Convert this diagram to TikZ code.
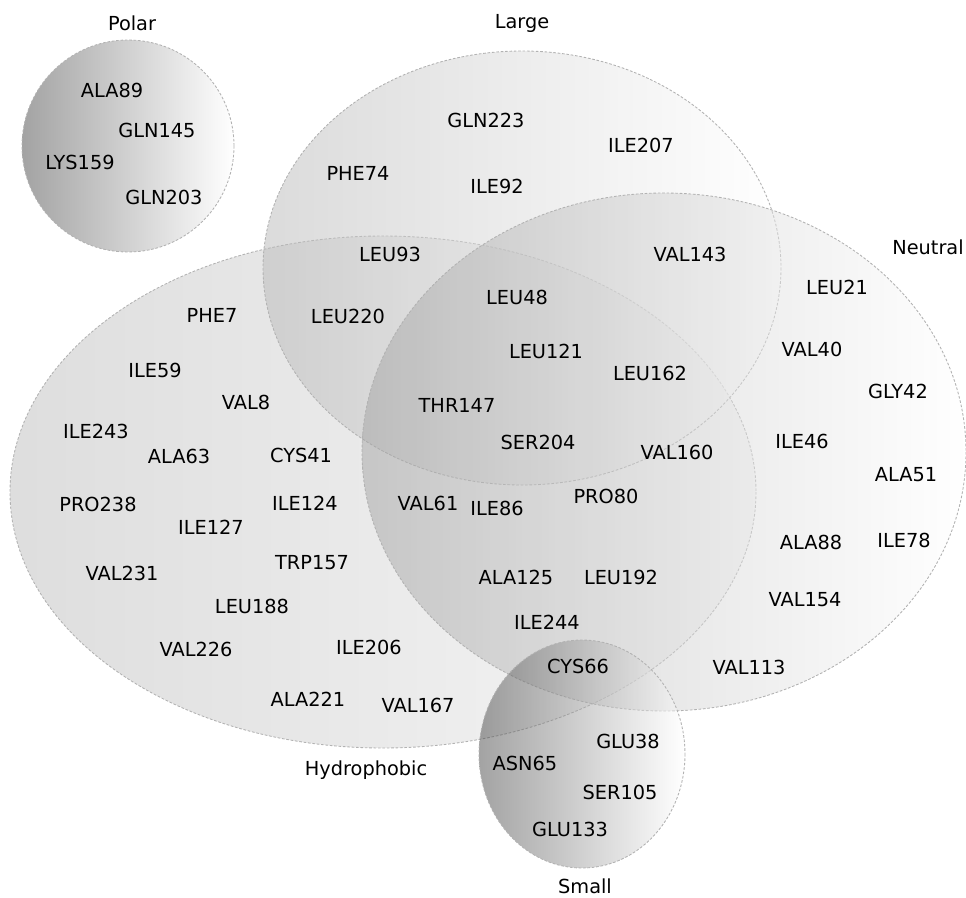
\documentclass[tikz,border=0pt]{standalone}
\usepackage{fontspec}
\setmainfont{DejaVu Sans}
\begin{document}
\begin{tikzpicture}[x=0.02cm,y=-0.02cm,
    venn/.style={fill opacity=0.5,draw=gray!60,line width=0.5pt,dash pattern=on 1.5pt off 1pt},
    res/.style={font=\fontsize{11}{13}\selectfont,inner sep=1pt}]
    \useasboundingbox (0,0) rectangle (966,898);
    \shadedraw[venn,left color=black!26,right color=black!6] (383,492) ellipse [x radius=373,y radius=256];
    \shadedraw[venn,left color=black!28,right color=white] (522,268) ellipse [x radius=259,y radius=217];
    \shadedraw[venn,left color=black!36,right color=white] (664,452) ellipse [x radius=302,y radius=259];
    \shadedraw[venn,left color=black!72,right color=white] (128,146) circle [radius=106];
    \shadedraw[venn,left color=black!72,right color=white] (582,754) ellipse [x radius=103,y radius=114];
    % set names
    \node[res] (polar) at (132,23) {Polar};
    \node[res] (large) at (522,23) {Large};
    \node[res] (neutral) at (928,247) {Neutral};
    \node[res] (hydrophobic) at (366,770) {Hydrophobic};
    \node[res] (small) at (585,886) {Small};
    % polar
    \node[res] (ala89) at (112,90) {ALA89};
    \node[res] (gln145) at (157,130) {GLN145};
    \node[res] (lys159) at (80,162) {LYS159};
    \node[res] (gln203) at (164,197) {GLN203};
    % large
    \node[res] (gln223) at (486,120) {GLN223};
    \node[res] (ile207) at (641,145) {ILE207};
    \node[res] (phe74) at (358,173) {PHE74};
    \node[res] (ile92) at (497,186) {ILE92};
    \node[res] (leu93) at (390,254) {LEU93};
    \node[res] (val143) at (690,254) {VAL143};
    \node[res] (leu48) at (517,297) {LEU48};
    \node[res] (leu220) at (348,316) {LEU220};
    \node[res] (leu121) at (546,351) {LEU121};
    \node[res] (leu162) at (650,373) {LEU162};
    \node[res] (thr147) at (457,405) {THR147};
    \node[res] (ser204) at (538,442) {SER204};
    % neutral
    \node[res] (leu21) at (837,287) {LEU21};
    \node[res] (val40) at (812,349) {VAL40};
    \node[res] (gly42) at (898,391) {GLY42};
    \node[res] (ile46) at (802,441) {ILE46};
    \node[res] (ala51) at (906,475) {ALA51};
    \node[res] (ala88) at (811,542) {ALA88};
    \node[res] (ile78) at (904,540) {ILE78};
    \node[res] (val154) at (805,600) {VAL154};
    \node[res] (val113) at (749,667) {VAL113};
    \node[res] (val160) at (677,452) {VAL160};
    \node[res] (val61) at (428,503) {VAL61};
    \node[res] (ile86) at (497,508) {ILE86};
    \node[res] (pro80) at (606,496) {PRO80};
    \node[res] (ala125) at (516,577) {ALA125};
    \node[res] (leu192) at (621,577) {LEU192};
    \node[res] (ile244) at (547,622) {ILE244};
    % hydrophobic
    \node[res] (phe7) at (212,315) {PHE7};
    \node[res] (ile59) at (155,370) {ILE59};
    \node[res] (val8) at (246,402) {VAL8};
    \node[res] (ile243) at (96,431) {ILE243};
    \node[res] (ala63) at (179,456) {ALA63};
    \node[res] (cys41) at (301,455) {CYS41};
    \node[res] (pro238) at (98,504) {PRO238};
    \node[res] (ile124) at (305,503) {ILE124};
    \node[res] (ile127) at (211,527) {ILE127};
    \node[res] (trp157) at (312,563) {TRP157};
    \node[res] (val231) at (122,573) {VAL231};
    \node[res] (leu188) at (252,606) {LEU188};
    \node[res] (val226) at (196,649) {VAL226};
    \node[res] (ile206) at (369,647) {ILE206};
    \node[res] (ala221) at (308,699) {ALA221};
    \node[res] (val167) at (418,705) {VAL167};
    % small
    \node[res] (cys66) at (578,666) {CYS66};
    \node[res] (glu38) at (628,741) {GLU38};
    \node[res] (asn65) at (525,763) {ASN65};
    \node[res] (ser105) at (620,792) {SER105};
    \node[res] (glu133) at (570,829) {GLU133};
\end{tikzpicture}
\end{document}
